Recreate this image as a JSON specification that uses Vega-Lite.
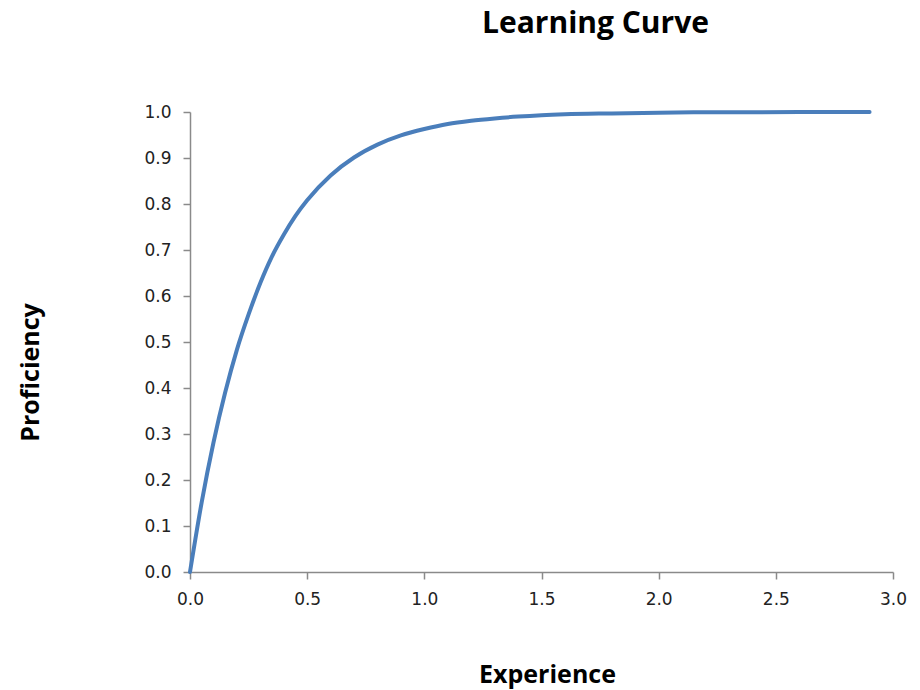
{
  "$schema": "https://vega.github.io/schema/vega-lite/v6.json",
  "autosize": "none",
  "width": 703,
  "height": 460,
  "padding": {"left": 190, "top": 112, "right": 27, "bottom": 118},
  "background": "white",
  "config": {"view": {"stroke": null}},
  "title": {
    "text": "Learning Curve",
    "font": "Open Sans",
    "fontWeight": "bold",
    "fontSize": 30,
    "color": "#000000",
    "anchor": "middle",
    "frame": "group",
    "dx": 54,
    "offset": 64
  },
  "data": {
    "values": [
      {"x": 0, "y": 0},
      {"x": 0.05, "y": 0.152},
      {"x": 0.1, "y": 0.281},
      {"x": 0.15, "y": 0.39},
      {"x": 0.2, "y": 0.483},
      {"x": 0.25, "y": 0.56},
      {"x": 0.3, "y": 0.628},
      {"x": 0.35, "y": 0.686},
      {"x": 0.4, "y": 0.733},
      {"x": 0.45, "y": 0.774},
      {"x": 0.5, "y": 0.808},
      {"x": 0.6, "y": 0.862},
      {"x": 0.7, "y": 0.901},
      {"x": 0.8, "y": 0.929},
      {"x": 0.9, "y": 0.949},
      {"x": 1.0, "y": 0.963},
      {"x": 1.1, "y": 0.974},
      {"x": 1.2, "y": 0.981},
      {"x": 1.3, "y": 0.986},
      {"x": 1.4, "y": 0.99},
      {"x": 1.5, "y": 0.993},
      {"x": 1.6, "y": 0.995},
      {"x": 1.8, "y": 0.997},
      {"x": 2.0, "y": 0.9986},
      {"x": 2.3, "y": 0.9995},
      {"x": 2.6, "y": 0.9998},
      {"x": 2.9, "y": 0.9999}
    ]
  },
  "mark": {"type": "line", "color": "#4a7ebb", "strokeWidth": 4, "interpolate": "monotone", "strokeCap": "round"},
  "encoding": {
    "x": {
      "field": "x",
      "type": "quantitative",
      "scale": {"domain": [0, 3], "nice": false, "zero": true},
      "axis": {
        "title": "Experience",
        "values": [0, 0.5, 1, 1.5, 2, 2.5, 3],
        "format": ".1f",
        "grid": false,
        "labelFlush": false,
        "domainColor": "#8a8a8a",
        "tickColor": "#8a8a8a",
        "domainWidth": 1.5,
        "tickWidth": 1.5,
        "tickSize": 7,
        "labelPadding": 12,
        "labelFont": "DejaVu Sans",
        "labelFontSize": 17,
        "labelColor": "#222222",
        "titleFont": "Open Sans",
        "titleFontWeight": "bold",
        "titleFontSize": 25,
        "titleColor": "#000000",
        "titleX": 357,
        "titleY": 110,
        "titleBaseline": "alphabetic"
      }
    },
    "y": {
      "field": "y",
      "type": "quantitative",
      "scale": {"domain": [0, 1], "nice": false},
      "axis": {
        "title": "Proficiency",
        "values": [0, 0.1, 0.2, 0.3, 0.4, 0.5, 0.6, 0.7, 0.8, 0.9, 1.0],
        "format": ".1f",
        "grid": false,
        "labelFlush": false,
        "domainColor": "#8a8a8a",
        "tickColor": "#8a8a8a",
        "domainWidth": 1.5,
        "tickWidth": 1.5,
        "tickSize": 7,
        "labelPadding": 12,
        "labelFont": "DejaVu Sans",
        "labelFontSize": 17,
        "labelColor": "#222222",
        "titleFont": "Open Sans",
        "titleFontWeight": "bold",
        "titleFontSize": 25,
        "titleColor": "#000000",
        "titleAngle": -90,
        "titleX": -152,
        "titleY": 260,
        "titleBaseline": "alphabetic"
      }
    }
  }
}
